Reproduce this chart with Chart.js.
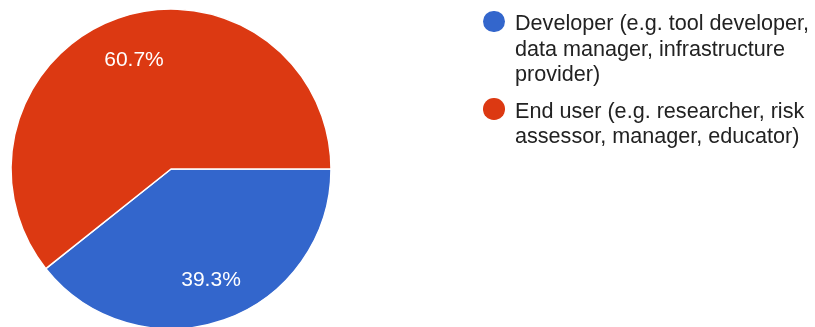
<!DOCTYPE html>
<html>
<head>
<meta charset="utf-8">
<script src="https://cdn.jsdelivr.net/npm/chart.js@4/dist/chart.umd.min.js"></script>
<style>
  html, body { margin: 0; padding: 0; background: #fff; overflow: hidden; }
  #wrap { position: relative; width: 815px; height: 327px; }
  #chart { position: absolute; left: 0; top: 0; }
  #legend { position: absolute; left: 483px; top: 10px; font-family: "Liberation Sans", Arial, sans-serif;
            font-size: 21.6px; line-height: 25.5px; color: #222; }
  .item { position: relative; padding-left: 32px; width: 318px; margin-bottom: 11px; }
  .dot { position: absolute; left: 0; top: 0.5px; width: 21.5px; height: 21.5px; border-radius: 50%; }
</style>
</head>
<body>
<div id="wrap">
  <canvas id="chart" width="815" height="327"></canvas>
  <div id="legend"></div>
</div>
<script>
// Respondent roles and their shares (%)
const categories = [
  'Developer (e.g. tool developer, data manager, infrastructure provider)',
  'End user (e.g. researcher, risk assessor, manager, educator)'
];
const shares = [39.3, 60.7];
const sliceColors = ['#3366CC', '#DC3912'];

// Percentage text drawn inside each slice, at the slice's mid angle
const sliceLabels = {
  id: 'sliceLabels',
  afterDatasetsDraw(chart) {
    const ctx = chart.ctx;
    const meta = chart.getDatasetMeta(0);
    ctx.save();
    ctx.fillStyle = '#ffffff';
    ctx.font = '21px "Liberation Sans", Arial, sans-serif';
    ctx.textAlign = 'center';
    ctx.textBaseline = 'middle';
    meta.data.forEach((arc, i) => {
      const { x, y, startAngle, endAngle, outerRadius } = arc.getProps(['x', 'y', 'startAngle', 'endAngle', 'outerRadius'], true);
      const mid = (startAngle + endAngle) / 2;
      const r = outerRadius * 0.73;
      ctx.fillText(shares[i].toFixed(1) + '%', x + Math.cos(mid) * r + 1.5, y + Math.sin(mid) * r + 1);
    });
    ctx.restore();
  }
};

const chart = new Chart(document.getElementById('chart'), {
  type: 'pie',
  data: {
    labels: categories,
    datasets: [{
      data: shares,
      backgroundColor: sliceColors,
      borderColor: '#ffffff',
      borderWidth: 1.5
    }]
  },
  options: {
    responsive: false,
    animation: false,
    rotation: 90,
    radius: 160,
    layout: { padding: { left: 0, right: 473, top: 11, bottom: 0 } },
    plugins: {
      legend: { display: false },
      tooltip: { enabled: false }
    }
  },
  plugins: [sliceLabels]
});

// Legend built from the chart's labels and colours
const legend = document.getElementById('legend');
categories.forEach((label, i) => {
  const item = document.createElement('div');
  item.className = 'item';
  const dot = document.createElement('span');
  dot.className = 'dot';
  dot.style.background = sliceColors[i];
  item.appendChild(dot);
  item.appendChild(document.createTextNode(label));
  legend.appendChild(item);
});
</script>
</body>
</html>
